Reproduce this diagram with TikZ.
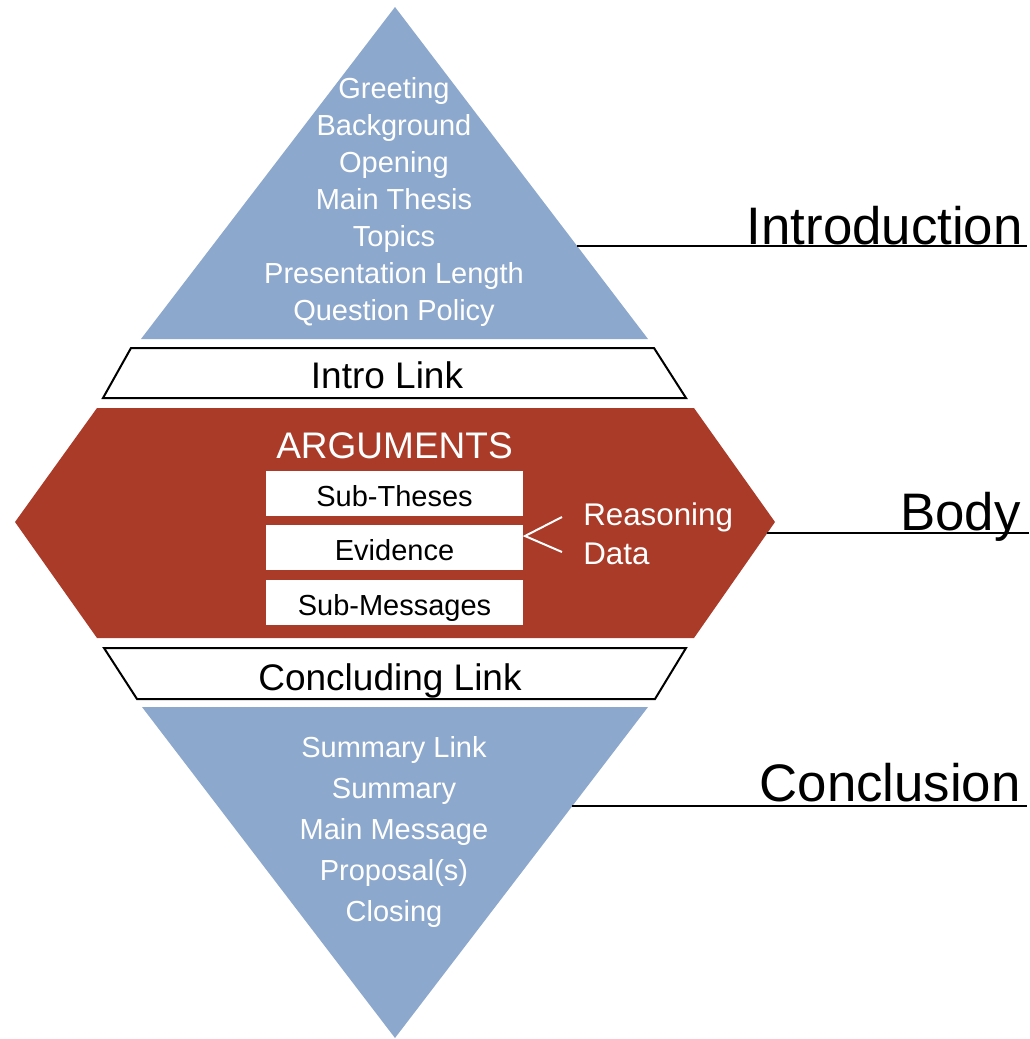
\documentclass[tikz,border=0pt]{standalone}
\usepackage{fontspec}
\setmainfont{Liberation Sans}
\definecolor{introblue}{HTML}{8DA8CD}
\definecolor{bodyred}{HTML}{A93B28}
\tikzset{
  listtext/.style={text=white, font=\fontsize{21.75}{26}\selectfont, anchor=base, inner sep=0pt},
  sidetext/.style={text=white, font=\fontsize{23.5}{28}\selectfont, anchor=base west, inner sep=0pt},
  linktext/.style={font=\fontsize{27.75}{33}\selectfont, anchor=base, inner sep=0pt},
  headtext/.style={font=\fontsize{39.6}{47}\selectfont, anchor=base east, inner sep=0pt},
  subbox/.style={fill=white, minimum width=192.75pt, minimum height=33.75pt, inner sep=0pt, text height=19pt, text depth=0pt, font=\fontsize{21.75}{26}\selectfont},
  linkbox/.style={draw=black, fill=white, line width=1.5pt},
  rule/.style={draw=black, line width=1.5pt}
}
\begin{document}
\begin{tikzpicture}[x=0.75pt, y=-0.75pt]
  \useasboundingbox (0,0) rectangle (1029,1039);
  % shapes
  \fill[introblue] (395,7) -- (648,339) -- (141,339) -- cycle;
  \draw[linkbox] (131,348) -- (654,348) -- (686,398) -- (103,398) -- cycle;
  \fill[bodyred] (97,408) -- (694,408) -- (775,522) -- (694,638) -- (97,638) -- (15,522) -- cycle;
  \draw[linkbox] (104,648) -- (686,648) -- (655,699) -- (137,699) -- cycle;
  \fill[introblue] (142,707) -- (648,707) -- (395,1038) -- cycle;

  % introduction
  \foreach \t [count=\i from 0] in {Greeting,Background,Opening,Main Thesis,Topics,Presentation Length,Question Policy}
    \node[listtext] (intro\i) at (394,{98+37*\i}) {\t};
  \node[linktext] (introlink) at (387,388) {Intro Link};

  % body
  \node[linktext, text=white] (arguments) at (394.5,458) {ARGUMENTS};
  \node[subbox] (subtheses) at (394.5,493.5) {Sub-Theses};
  \node[subbox] (evidence) at (394.5,547.5) {Evidence};
  \node[subbox] (submessages) at (394.5,602.5) {Sub-Messages};
  \draw[white, line width=1.5pt] (562,517) -- (525,536) -- (562,552);
  \node[sidetext] (reasoning) at (583,525) {Reasoning};
  \node[sidetext] (data) at (583,564) {Data};
  \node[linktext] (conclink) at (390,690) {Concluding Link};

  % conclusion
  \foreach \t [count=\i from 0] in {Summary Link,Summary,Main Message,Proposal(s),Closing}
    \node[listtext] (conc\i) at (394,{757+41*\i}) {\t};

  % headings
  \node[headtext] (introduction) at (1023,244) {Introduction};
  \node[headtext] (body) at (1021,530) {Body};
  \node[headtext] (conclusion) at (1021,801) {Conclusion};
  \coordinate (introstart) at (577,246);
  \coordinate (introend) at (1027,246);
  \coordinate (bodystart) at (767,533);
  \coordinate (bodyend) at (1029,533);
  \coordinate (concstart) at (572,806);
  \coordinate (concend) at (1027,806);
  \draw[rule] (introstart) -- (introend);
  \draw[rule] (bodystart) -- (bodyend);
  \draw[rule] (concstart) -- (concend);
\end{tikzpicture}
\end{document}
